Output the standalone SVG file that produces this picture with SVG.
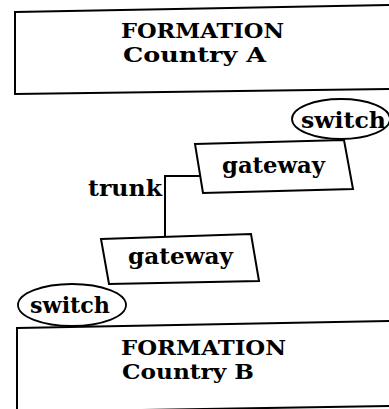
<svg xmlns="http://www.w3.org/2000/svg" width="389" height="409" viewBox="0 0 389 409">
  <style>
    .box { fill: #fff; stroke: #000; stroke-width: 2; stroke-linejoin: miter; }
    .oval { fill: #fff; stroke: #000; stroke-width: 1.8; }
    .wire { fill: none; stroke: #000; stroke-width: 2; }
    .lbl { font-family: "DejaVu Serif", "Liberation Serif", serif; font-weight: bold; fill: #000; }
  </style>
  <rect width="389" height="409" fill="#fff"/>

  <!-- trunk line between the two gateways -->
  <g id="connectors">
    <polyline class="wire" points="201,176 165,176 165,238"/>
  </g>

  <g id="formation-a">
    <polygon class="box" points="15,12 392,5 392,89 15,94"/>
    <text class="lbl" x="121" y="38" font-size="20.5" textLength="163" lengthAdjust="spacingAndGlyphs">FORMATION</text>
    <text class="lbl" x="123" y="62" font-size="20.5" textLength="143" lengthAdjust="spacingAndGlyphs">Country A</text>
  </g>

  <g id="formation-b">
    <polygon class="box" points="17,328 392,321 392,406 17,412"/>
    <text class="lbl" x="121" y="355" font-size="20.5" textLength="165" lengthAdjust="spacingAndGlyphs">FORMATION</text>
    <text class="lbl" x="122" y="379" font-size="20.5" textLength="132" lengthAdjust="spacingAndGlyphs">Country B</text>
  </g>

  <g id="switch-a">
    <ellipse class="oval" cx="341" cy="119" rx="49" ry="20"/>
    <text class="lbl" x="301" y="128" font-size="21.5" textLength="85" lengthAdjust="spacingAndGlyphs">switch</text>
  </g>

  <g id="gateway-a">
    <polygon class="box" points="195,144 344,140 353,189 203,193"/>
    <text class="lbl" x="222" y="173" font-size="22" textLength="103" lengthAdjust="spacingAndGlyphs">gateway</text>
  </g>

  <g id="trunk-label">
    <text class="lbl" x="88" y="196" font-size="22" textLength="74" lengthAdjust="spacingAndGlyphs">trunk</text>
  </g>

  <g id="gateway-b">
    <polygon class="box" points="101,239 251,234 259,281 109,284"/>
    <text class="lbl" x="128" y="264" font-size="22" textLength="105" lengthAdjust="spacingAndGlyphs">gateway</text>
  </g>

  <g id="switch-b">
    <ellipse class="oval" cx="72" cy="305" rx="54" ry="21"/>
    <text class="lbl" x="30" y="313" font-size="21.5" textLength="80" lengthAdjust="spacingAndGlyphs">switch</text>
  </g>
</svg>
